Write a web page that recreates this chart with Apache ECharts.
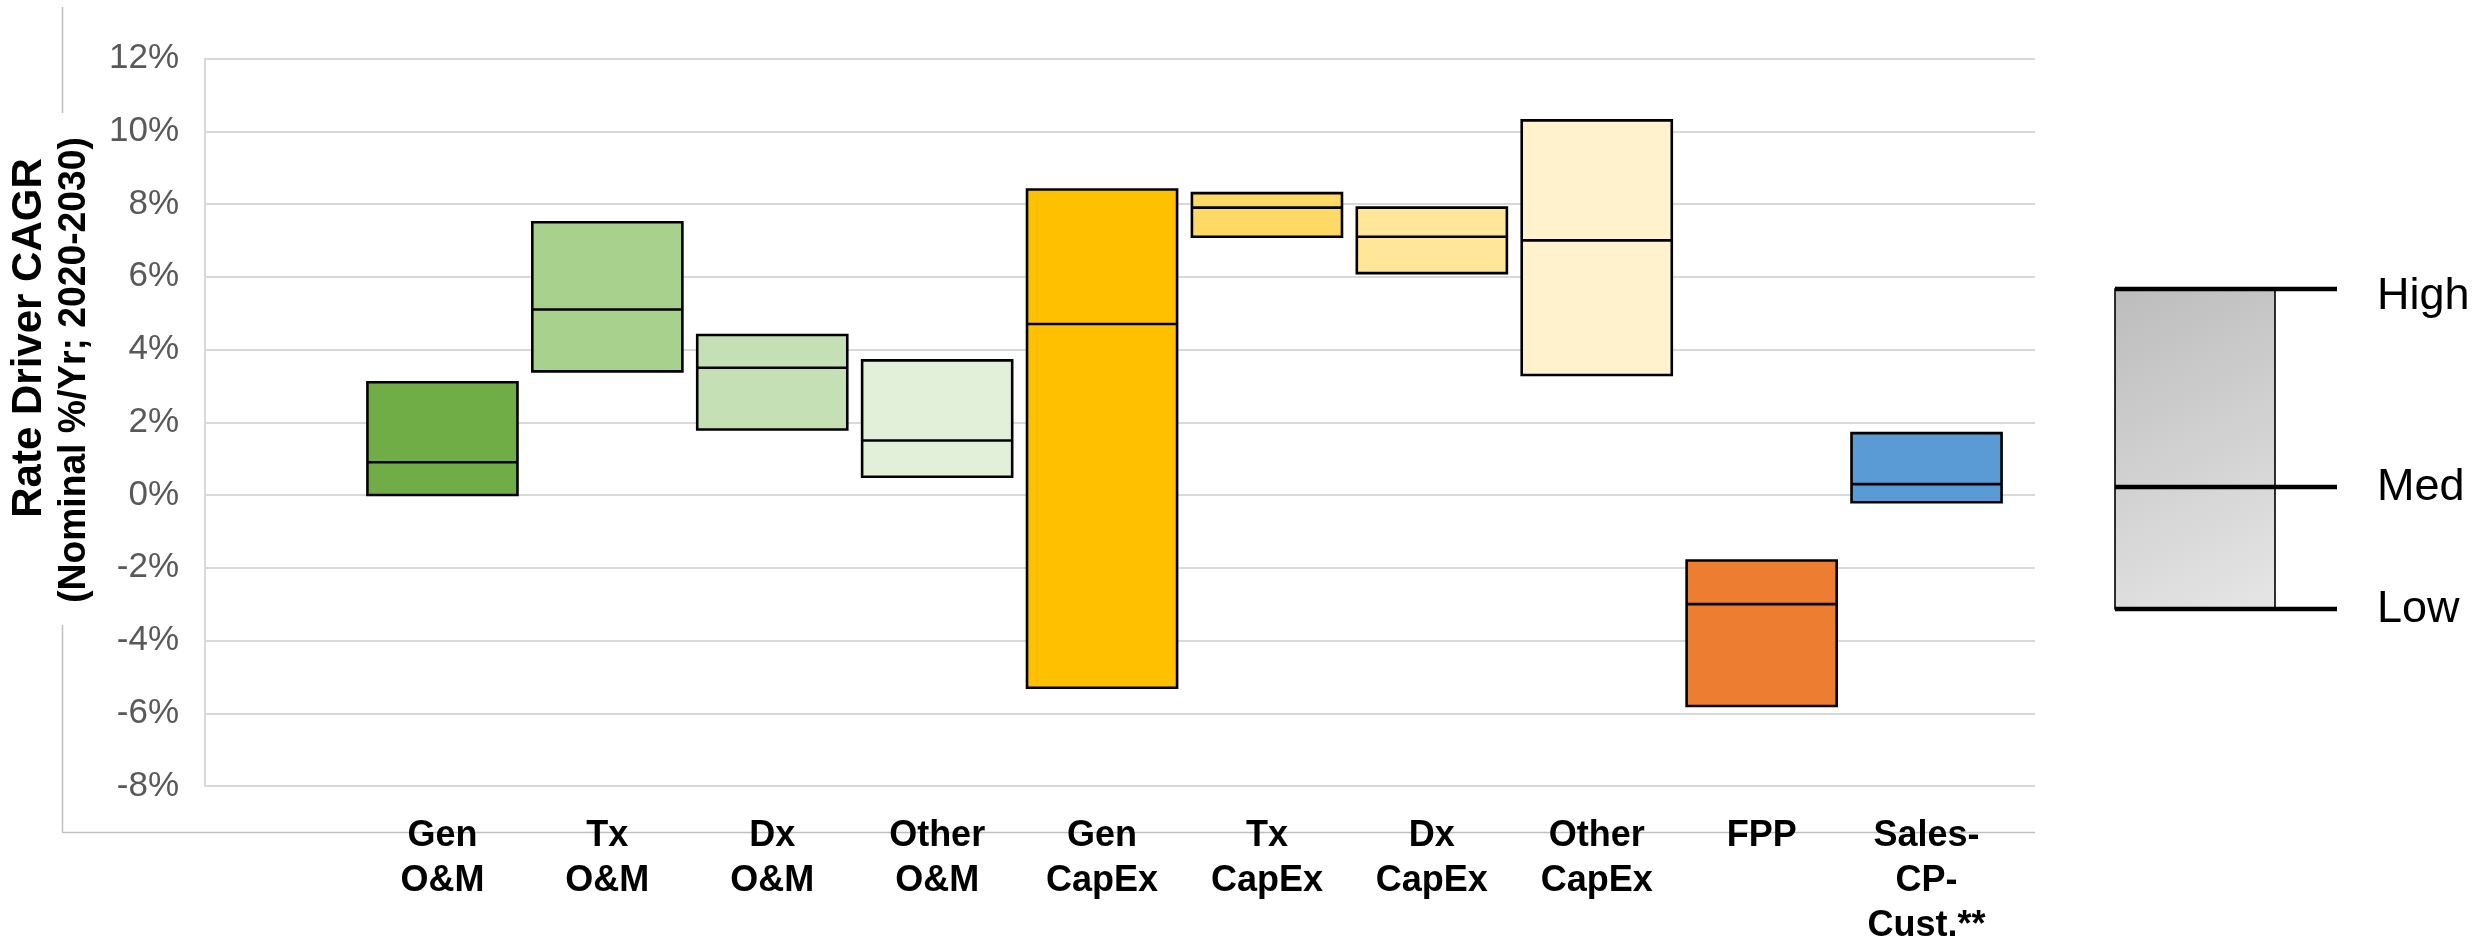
<!DOCTYPE html>
<html>
<head>
<meta charset="utf-8">
<title>Rate Driver CAGR</title>
<script src="https://cdn.jsdelivr.net/npm/echarts@6/dist/echarts.min.js"></script>
<style>
  html, body { margin: 0; padding: 0; background: #ffffff; }
  #chart { width: 2484px; height: 938px; }
</style>
</head>
<body>
<div id="chart"></div>
<script>
// Rate drivers, nominal CAGR 2020-2030 (%): low / median / high per driver
const categories = ['Gen\nO&M', 'Tx\nO&M', 'Dx\nO&M', 'Other\nO&M', 'Gen\nCapEx',
                    'Tx\nCapEx', 'Dx\nCapEx', 'Other\nCapEx', 'FPP', 'Sales-\nCP-\nCust.**'];
const lowValues  = [0.0, 3.4, 1.8, 0.5, -5.3, 7.1, 6.1, 3.3, -5.8, -0.2];
const medValues  = [0.9, 5.1, 3.5, 1.5,  4.7, 7.9, 7.1, 7.0, -3.0,  0.3];
const highValues = [3.1, 7.5, 4.4, 3.7,  8.4, 8.3, 7.9, 10.3, -1.8, 1.7];

// Value axis range and step (%)
const yMin = -8;
const yMax = 12;
const yStep = 2;

// Legend entries
const legendLabels = ['High', 'Med', 'Low'];

// Fill colour for each driver's box
const barColors = ['#70ad47', '#a9d18e', '#c5e0b4', '#e2f0d9', '#ffc000',
                   '#ffd966', '#ffe699', '#fff2cc', '#ed7d31', '#5b9bd5'];

const FONT = '"Liberation Sans", Arial, sans-serif';

const chart = echarts.init(document.getElementById('chart'), null, { renderer: 'canvas' });

const boxData = categories.map((c, i) => [i, lowValues[i], medValues[i], highValues[i]]);

// One box per driver: low-to-high rectangle with a median line across it
function renderBox(params, api) {
  const idx = api.value(0);
  const lo = api.coord([idx, api.value(1)]);
  const md = api.coord([idx, api.value(2)]);
  const hi = api.coord([idx, api.value(3)]);
  const band = api.size([1, 0])[0];
  const w = band * 0.91;
  const x0 = lo[0] - w / 2;
  return {
    type: 'group',
    children: [
      {
        type: 'rect',
        shape: { x: x0, y: hi[1], width: w, height: lo[1] - hi[1] },
        style: { fill: barColors[idx], stroke: '#000000', lineWidth: 2.6 }
      },
      {
        type: 'line',
        shape: { x1: x0, y1: md[1], x2: x0 + w, y2: md[1] },
        style: { stroke: '#000000', lineWidth: 2.6 }
      }
    ]
  };
}

// Legend geometry
const lgLeft = 2115, lgRight = 2275, lgLineEnd = 2337;
const lgHigh = 289, lgMed = 487, lgLow = 609;
const lgTextX = 2377;

const option = {
  backgroundColor: '#ffffff',
  animation: false,
  grid: [
    { left: 205, right: 449, top: 58.5, bottom: 152, outerBoundsMode: 'none', containLabel: false },
    { left: 360, right: 475, top: 58.5, bottom: 152, outerBoundsMode: 'none', containLabel: false }
  ],
  xAxis: [
    { type: 'value', gridIndex: 0, show: false, min: 0, max: 1 },
    {
      type: 'category', gridIndex: 1, data: categories,
      axisLine: { show: false }, axisTick: { show: false }, splitLine: { show: false },
      axisLabel: {
        interval: 0, margin: 28, color: '#000000', fontFamily: FONT,
        fontWeight: 'bold', fontSize: 36, lineHeight: 45
      }
    }
  ],
  yAxis: [
    {
      type: 'value', gridIndex: 0, min: yMin, max: yMax, interval: yStep,
      axisLine: { show: true, onZero: false, lineStyle: { color: '#d9d9d9', width: 2 } },
      axisTick: { show: false },
      splitLine: { show: true, lineStyle: { color: '#d9d9d9', width: 2 } },
      axisLabel: {
        margin: 26, color: '#595959', fontFamily: FONT, fontSize: 35,
        formatter: v => v + '%'
      }
    },
    { type: 'value', gridIndex: 1, min: yMin, max: yMax, interval: yStep, show: false }
  ],
  series: [
    {
      type: 'custom',
      xAxisIndex: 1, yAxisIndex: 1,
      data: boxData,
      encode: { x: 0, y: [1, 2, 3] },
      renderItem: renderBox
    }
  ],
  graphic: [
    // outer frame
    { type: 'line', shape: { x1: 62.5, y1: 7, x2: 62.5, y2: 113 }, style: { stroke: '#bfbfbf', lineWidth: 1.5 } },
    { type: 'line', shape: { x1: 62.5, y1: 625, x2: 62.5, y2: 832.5 }, style: { stroke: '#bfbfbf', lineWidth: 1.5 } },
    { type: 'line', shape: { x1: 62.5, y1: 832.5, x2: 2035, y2: 832.5 }, style: { stroke: '#bfbfbf', lineWidth: 1.5 } },
    // value axis title
    {
      type: 'text', x: 29, y: 338, rotation: Math.PI / 2,
      style: { text: 'Rate Driver CAGR', fill: '#000000', font: 'bold 42px ' + FONT, align: 'center', verticalAlign: 'middle' }
    },
    {
      type: 'text', x: 74, y: 370, rotation: Math.PI / 2, scaleX: 0.955,
      style: { text: '(Nominal %/Yr; 2020-2030)', fill: '#000000', font: 'bold 39px ' + FONT, align: 'center', verticalAlign: 'middle' }
    },
    // legend box
    {
      type: 'rect', shape: { x: lgLeft, y: lgHigh, width: lgRight - lgLeft, height: lgLow - lgHigh },
      style: {
        fill: { type: 'linear', x: 0, y: 0, x2: 1, y2: 1,
                colorStops: [{ offset: 0, color: '#bcbcbc' }, { offset: 1, color: '#e6e6e6' }] },
        stroke: '#000000', lineWidth: 1.6
      }
    },
    { type: 'line', shape: { x1: lgLeft, y1: lgHigh, x2: lgLineEnd, y2: lgHigh }, style: { stroke: '#000000', lineWidth: 4.5 } },
    { type: 'line', shape: { x1: lgLeft, y1: lgMed, x2: lgLineEnd, y2: lgMed }, style: { stroke: '#000000', lineWidth: 4.5 } },
    { type: 'line', shape: { x1: lgLeft, y1: lgLow, x2: lgLineEnd, y2: lgLow }, style: { stroke: '#000000', lineWidth: 4.5 } },
    { type: 'text', x: lgTextX, y: lgHigh + 8, style: { text: legendLabels[0], fill: '#000000', font: '45px ' + FONT, align: 'left', verticalAlign: 'middle' } },
    { type: 'text', x: lgTextX, y: lgMed + 1, style: { text: legendLabels[1], fill: '#000000', font: '45px ' + FONT, align: 'left', verticalAlign: 'middle' } },
    { type: 'text', x: lgTextX, y: lgLow + 1, style: { text: legendLabels[2], fill: '#000000', font: '45px ' + FONT, align: 'left', verticalAlign: 'middle' } }
  ]
};

chart.setOption(option);
</script>
</body>
</html>
